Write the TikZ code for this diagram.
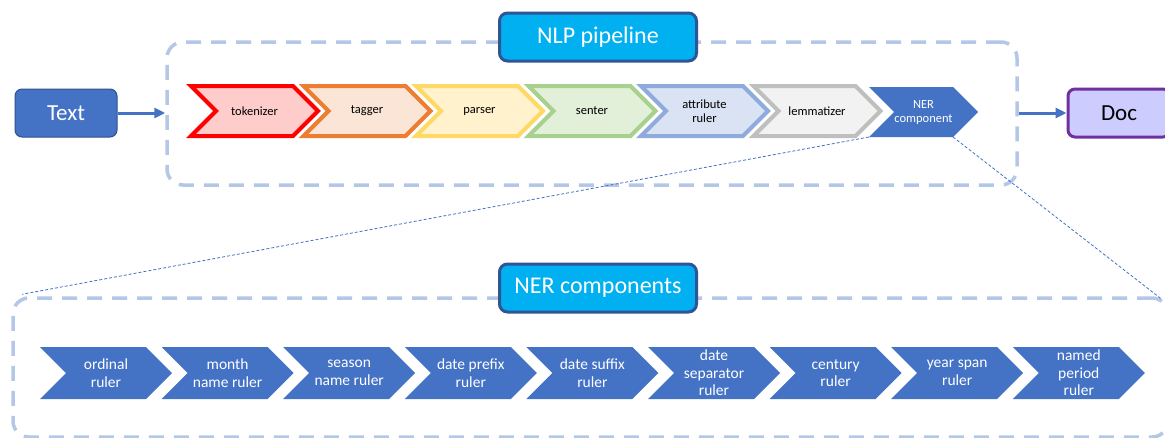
\documentclass[tikz,border=0pt]{standalone}
\usepackage{fontspec}
\setmainfont{Carlito}
\usetikzlibrary{arrows.meta,calc}

% palette
\definecolor{accent}{HTML}{4472C4}
\definecolor{accentdark}{HTML}{2F528F}
\definecolor{framecol}{HTML}{B4C7E7}
\definecolor{titlefill}{HTML}{00B0F0}
\definecolor{titleedge}{HTML}{2F5597}
\definecolor{docfill}{HTML}{CCCCFF}
\definecolor{docedge}{HTML}{7030A0}
\definecolor{redfill}{HTML}{FFCCCC}
\definecolor{rededge}{HTML}{FF0000}
\definecolor{orangefill}{HTML}{FBE5D6}
\definecolor{orangeedge}{HTML}{ED7D31}
\definecolor{yellowfill}{HTML}{FFF2CC}
\definecolor{yellowedge}{HTML}{FFD966}
\definecolor{greenfill}{HTML}{E2F0D9}
\definecolor{greenedge}{HTML}{A9D18E}
\definecolor{bluefill}{HTML}{DAE3F3}
\definecolor{blueedge}{HTML}{8FAADC}
\definecolor{greyfill}{HTML}{F2F2F2}
\definecolor{greyedge}{HTML}{BFBFBF}

\tikzset{
  frame/.style={draw=framecol, line width=3.5pt, dash pattern=on 15pt off 10pt,
    rounded corners=16pt, inner sep=0pt},
  titlebox/.style={draw=titleedge, fill=titlefill, line width=3pt, rounded corners=8pt,
    text=white, font=\fontsize{24}{28}\selectfont, inner sep=0pt,
    minimum width=197pt, minimum height=48pt},
  endbox/.style={rounded corners=7pt, inner sep=0pt, minimum width=102pt,
    minimum height=48pt, font=\fontsize{23}{27}\selectfont},
  flow/.style={draw=accent, line width=3pt, -{Triangle[length=11pt,width=10pt]}},
  zoomline/.style={draw=accent, line width=0.8pt, dash pattern=on 3pt off 2pt},
  stage/.style={line width=4pt, line join=miter},
  stagetext/.style={align=center, text=black, inner sep=0pt,
    font=\fontsize{12.5}{14}\selectfont},
  nertext/.style={align=center, text=white, inner sep=0pt,
    font=\fontsize{12.5}{14}\selectfont},
  rulerbody/.style={fill=accent},
  rulertext/.style={align=center, text=white, inner sep=0pt,
    font=\fontsize{15.5}{17.5}\selectfont},
}

% chevron: name, left x, top y, body width, point depth, height, shape style, text style, text
\newcommand\chev[9]{%
  \path[#7] (#2,#3) -- ++(#4,0) -- ++(#5,#6/2) -- ++(-#5,#6/2) -- ++(-#4,0)
    -- ++(#5,-#6/2) -- cycle;
  \coordinate (#1-sw) at (#2,#3+#6);
  \coordinate (#1-se) at (#2+#4,#3+#6);
  \node[#8] (#1) at ({#2+(#4+#5)/2},{#3+#6/2}) {#9};
}

\begin{document}
\begin{tikzpicture}[x=1pt, y=-1pt]
\useasboundingbox[fill=white] (0,0) rectangle (1165,437);

% dashed group frames
\node[frame, minimum width=850pt, minimum height=143pt] (nlpbox) at (592,113.5) {};
\node[frame, minimum width=1155pt, minimum height=139pt] (nerbox) at (590.5,367.5) {};

% group titles
\node[titlebox] (nlptitle) at (598,37) {NLP pipeline};
\node[titlebox] (nertitle) at (598,288) {NER components};

% input and output
\node[endbox, fill=accent, draw=accentdark, line width=1pt, text=white] (text) at (66,113) {Text};
\node[endbox, fill=docfill, draw=docedge, line width=3pt, text=black] (doc) at (1119,113) {Doc};

% pipeline stages
\chev{tok}{191}{86}{102}{25}{50}{stage, fill=redfill, draw=rededge}{stagetext}{tokenizer}
\chev{tag}{303.5}{86}{102}{25}{50}{stage, fill=orangefill, draw=orangeedge}{stagetext}{tagger}
\chev{par}{416}{86}{102}{25}{50}{stage, fill=yellowfill, draw=yellowedge}{stagetext}{parser}
\chev{sen}{528.5}{86}{102}{25}{50}{stage, fill=greenfill, draw=greenedge}{stagetext}{senter}
\chev{att}{641}{86}{102}{25}{50}{stage, fill=bluefill, draw=blueedge}{stagetext}{attribute\\ruler}
\chev{lem}{753.5}{86}{102}{25}{50}{stage, fill=greyfill, draw=greyedge}{stagetext}{lemmatizer}
\chev{ner}{869}{87}{84}{25}{50}{rulerbody}{nertext}{NER\\component}

% NER rulers
\chev{r1}{40}{347}{106}{26}{52}{rulerbody}{rulertext}{ordinal\\ruler}
\chev{r2}{161.6}{347}{106}{26}{52}{rulerbody}{rulertext}{month\\name ruler}
\chev{r3}{283.2}{347}{106}{26}{52}{rulerbody}{rulertext}{season\\name ruler}
\chev{r4}{404.8}{347}{106}{26}{52}{rulerbody}{rulertext}{date prefix\\ruler}
\chev{r5}{526.4}{347}{106}{26}{52}{rulerbody}{rulertext}{date suffix\\ruler}
\chev{r6}{648}{347}{106}{26}{52}{rulerbody}{rulertext}{date\\separator\\ruler}
\chev{r7}{769.6}{347}{106}{26}{52}{rulerbody}{rulertext}{century\\ruler}
\chev{r8}{891.2}{347}{106}{26}{52}{rulerbody}{rulertext}{year span\\ruler}
\chev{r9}{1012.8}{347}{106}{26}{52}{rulerbody}{rulertext}{named\\period\\ruler}

% flow arrows
\draw[flow] (text.east) -- (text.east -| nlpbox.west);
\draw[flow] (nlpbox.east |- doc.west) -- (doc.west);

% zoom-out lines from the NER component to its breakdown
\draw[zoomline] (ner-sw) -- ([xshift=11pt,yshift=2pt]nerbox.north west);
\draw[zoomline] (ner-se) -- ([xshift=-8pt,yshift=-3pt]nerbox.north east);
\end{tikzpicture}
\end{document}
